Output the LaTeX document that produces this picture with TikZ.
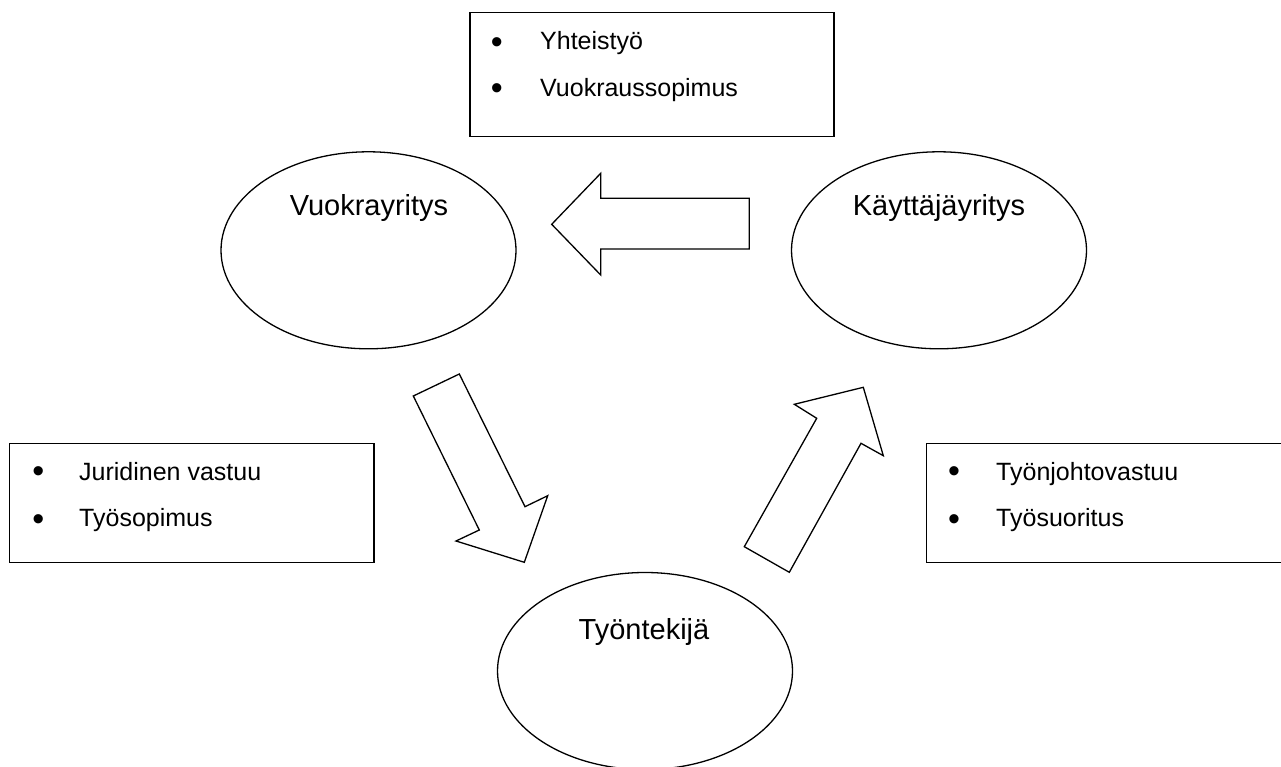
\documentclass[tikz,border=0pt]{standalone}
\usepackage{fontspec}
\setmainfont{Liberation Sans}
\usetikzlibrary{shapes.geometric}
\tikzset{
  party/.style={draw, line width=1.3pt, ellipse, minimum width=295pt, minimum height=197pt, inner sep=0pt},
  partylabel/.style={anchor=base, inner sep=0pt, font=\fontsize{29}{34}\selectfont},
  infobox/.style={draw, line width=1.3pt, rectangle, inner sep=0pt},
  bul/.style={anchor=base, inner sep=0pt, font=\fontsize{34}{40}\selectfont},
  item/.style={anchor=base west, inner sep=0pt, font=\fontsize{25}{30}\selectfont},
  blockarrow/.style={draw, line width=1.3pt, line join=miter, fill=white}
}
\begin{document}
\begin{tikzpicture}[x=1pt, y=-1pt]
\useasboundingbox (0,0) rectangle (1281,767);
\clip (0,0) rectangle (1281,767);
\fill[white] (0,0) rectangle (1281,767);

% top box
\node[infobox, minimum width=364pt, minimum height=124.4pt] (topbox) at (652,74.5) {};
\node[bul] (tb1) at (496.7,53.6) {\textbullet};
\node[item] (tt1) at (540,50) {Yhteistyö};
\node[bul] (tb2) at (496.7,99.6) {\textbullet};
\node[item] (tt2) at (540,96.7) {Vuokraussopimus};

% left box
\node[infobox, minimum width=364.7pt, minimum height=119.4pt] (leftbox) at (191.65,503) {};
\node[bul] (lb1) at (38.3,482) {\textbullet};
\node[item] (lt1) at (79,480) {Juridinen vastuu};
\node[bul] (lb2) at (38.3,530.3) {\textbullet};
\node[item] (lt2) at (79,526.7) {Työsopimus};

% right box (runs past the right edge)
\node[infobox, minimum width=360pt, minimum height=119.4pt] (rightbox) at (1106.7,503) {};
\node[bul] (rb1) at (954,482) {\textbullet};
\node[item] (rt1) at (996,480) {Työnjohtovastuu};
\node[bul] (rb2) at (954,530.3) {\textbullet};
\node[item] (rt2) at (996,526.7) {Työsuoritus};

% ellipses
\node[party] (vuokra) at (368.5,250.3) {};
\node[partylabel] (vuokralbl) at (369,215.7) {Vuokrayritys};
\node[party] (kayttaja) at (939,250.3) {};
\node[partylabel] (kayttajalbl) at (939,215.7) {Käyttäjäyritys};
\node[party, minimum height=197pt] (tyontekija) at (645,671) {};
\node[partylabel] (tyontekijalbl) at (644,639.3) {Työntekijä};

% block arrows
\draw[blockarrow] (551.7,224.3) -- (600.7,173.3) -- (600.7,198.3) -- (749.3,198.3)
  -- (749.3,249) -- (600.7,249) -- (600.7,275) -- cycle;
\draw[blockarrow] (413.3,396) -- (459.3,374) -- (525,506.7) -- (547.7,495.7)
  -- (524.3,562.3) -- (456,541) -- (479.3,530) -- cycle;
\draw[blockarrow] (744.3,546.7) -- (789.3,572.3) -- (861,443.3) -- (883.3,455.7)
  -- (863.3,387.3) -- (794.3,404.3) -- (816.7,418.3) -- cycle;
\end{tikzpicture}
\end{document}
